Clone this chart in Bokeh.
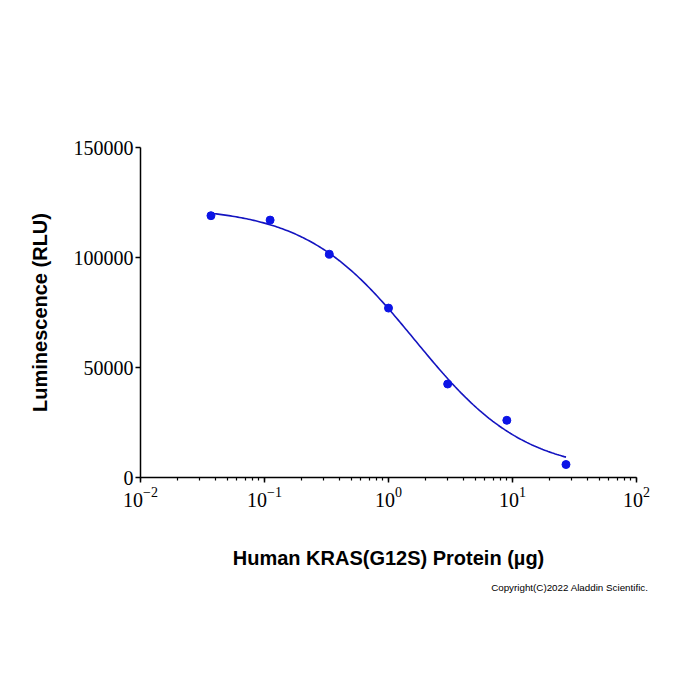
import numpy as np
from bokeh.plotting import figure
from bokeh.models import Range1d, FixedTicker, LogTicker, BasicTickFormatter, Title
from bokeh.embed import file_html
from bokeh.resources import INLINE

# Protein amount (µg) and measured luminescence (RLU)
dose_ug = [0.037, 0.111, 0.333, 1.0, 3.0, 9.0, 27.0]
luminescence = [119000, 117000, 101500, 77000, 42500, 26000, 5900]

# Four-parameter logistic fit of the dose response
fit_top = 123000
fit_bottom = 2000
fit_ec50 = 1.63
fit_hill = 0.98

y_ticks = [0, 50000, 100000, 150000]

curve_x = np.logspace(np.log10(dose_ug[0]), np.log10(dose_ug[-1]), 200)
curve_y = fit_bottom + (fit_top - fit_bottom) / (1 + (curve_x / fit_ec50) ** fit_hill)

p = figure(width=700, height=700, x_axis_type="log",
           x_range=Range1d(0.01, 100), y_range=Range1d(0, 150000),
           output_backend="svg", toolbar_location=None,
           min_border_left=140, min_border_right=64,
           min_border_top=147, min_border_bottom=223)
p.outline_line_color = None
p.xgrid.visible = False
p.ygrid.visible = False
p.background_fill_color = "white"
p.border_fill_color = "white"

p.line(curve_x, curve_y, line_color="#1414c0", line_width=1.6)
p.scatter(dose_ug, luminescence, size=8, fill_color="#0c14e6", line_color="#0c14e6")

# y axis
ya = p.yaxis[0]
ya.ticker = FixedTicker(ticks=y_ticks)
ya.formatter = BasicTickFormatter(use_scientific=False)
ya.minor_tick_line_color = None
ya.major_tick_in = 0
ya.major_tick_out = 5
ya.axis_line_width = 1.5
ya.major_tick_line_width = 1.5
ya.major_label_text_font = "Liberation Serif"
ya.major_label_text_font_size = "20px"
ya.major_label_text_color = "black"
ya.major_label_standoff = 2
ya.axis_label = "Luminescence (RLU)"
ya.axis_label_text_font = "Liberation Sans"
ya.axis_label_text_font_style = "bold"
ya.axis_label_text_font_size = "20px"
ya.axis_label_text_color = "black"
ya.axis_label_standoff = 20

# x axis
xa = p.xaxis[0]
xa.ticker = LogTicker(num_minor_ticks=10)
xa.major_tick_in = 0
xa.major_tick_out = 5
xa.minor_tick_in = 0
xa.minor_tick_out = 3
xa.axis_line_width = 1.5
xa.major_tick_line_width = 1.5
xa.minor_tick_line_width = 1.2
xa.major_label_text_font = "Liberation Serif"
xa.major_label_text_font_size = "20px"
xa.major_label_text_color = "black"
xa.major_label_standoff = 4
xa.axis_label = "Human KRAS(G12S) Protein (µg)"
xa.axis_label_text_font = "Liberation Sans"
xa.axis_label_text_font_style = "bold"
xa.axis_label_text_font_size = "20px"
xa.axis_label_text_color = "black"
xa.axis_label_standoff = 37

# copyright note, right-aligned under the axis title
p.add_layout(Title(text="Copyright(C)2022 Aladdin Scientific.", align="right",
                   text_font="Liberation Sans", text_font_size="9.8px",
                   text_font_style="normal", text_color="black",
                   standoff=16, offset=-12), "below")

open("out.html", "w").write(file_html(p, INLINE))
